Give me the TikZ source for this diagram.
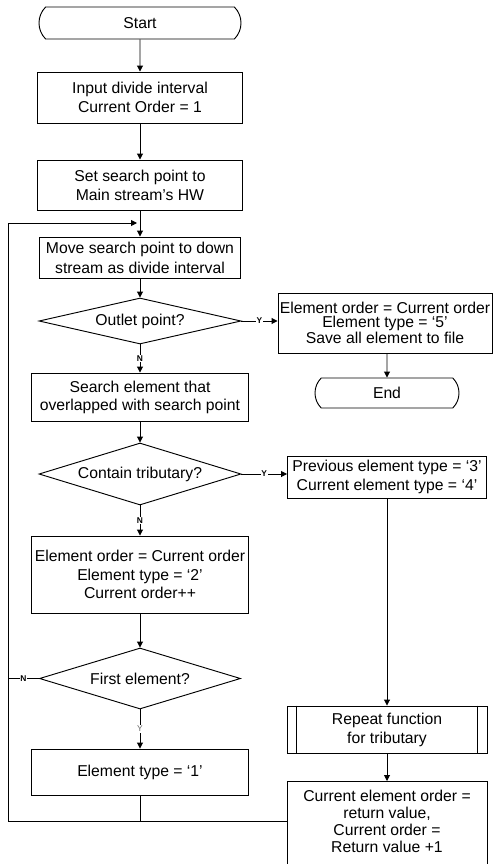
\documentclass[tikz,border=0pt]{standalone}
\usepackage{fontspec}
\setmainfont{Liberation Sans}
\usetikzlibrary{shapes.geometric,shapes.misc,arrows.meta}
\begin{document}
\begin{tikzpicture}[x=0.75pt,y=-0.75pt,
  every node/.style={font=\fontsize{11.8pt}{14.25pt}\selectfont, align=center, inner sep=0pt},
  proc/.style={draw, rectangle, line width=0.7pt},
  term/.style={draw, rounded rectangle, rounded rectangle arc length=90, line width=0.7pt},
  dec/.style={draw, diamond, line width=0.7pt},
  arr/.style={-{Triangle[length=4.5pt,width=4.5pt]}, line width=0.7pt},
  ln/.style={line width=0.7pt},
  yn/.style={font=\fontsize{6.3pt}{6.3pt}\selectfont\bfseries, fill=white, inner sep=0.6pt},
  ynl/.style={font=\fontsize{6.3pt}{6.3pt}\selectfont\color{black!60}, fill=white, inner sep=0.6pt}]
\useasboundingbox (0,0) rectangle (493,864);
\clip (0,0) rectangle (493,864);
\fill[white] (0,0) rectangle (493,864);

% left column
\node[term, minimum width=151.5pt, minimum height=24pt] (start) at (140,23) {Start};
\node[proc, minimum width=153.75pt, minimum height=38.25pt] (box1) at (140,97.5) {Input divide interval\\Current Order = 1};
\node[proc, minimum width=153.75pt, minimum height=37.5pt] (box2) at (140,185) {Set search point to\\Main stream’s HW};
\node[proc, minimum width=150.75pt, minimum height=30.75pt, font=\fontsize{11.8pt}{15pt}\selectfont] (box3) at (140,257.5) {Move search point to down\\stream as divide interval};
\node[dec, minimum width=151.5pt, minimum height=34.5pt, shape aspect=4.4] (d1) at (140,321) {Outlet point?};
\node[proc, minimum width=162.75pt, minimum height=36pt, font=\fontsize{11.8pt}{13.5pt}\selectfont] (box4) at (140,397) {Search element that\\overlapped with search point};
\node[dec, minimum width=151.5pt, minimum height=46.5pt, shape aspect=3.26] (d2) at (140,474) {Contain tributary?};
\node[proc, minimum width=162.75pt, minimum height=57.75pt, font=\fontsize{11.8pt}{13.9pt}\selectfont] (box5) at (140,574.5) {Element order = Current order\\Element type = ‘2’\\Current order++};
\node[dec, minimum width=150.75pt, minimum height=45.75pt, shape aspect=3.3] (d3) at (140,678.5) {First element?};
\node[proc, minimum width=162.75pt, minimum height=34.5pt] (box6) at (140,772) {Element type = ‘1’};

% right column
\node[proc, minimum width=160.5pt, minimum height=45pt, font=\fontsize{11.8pt}{10.8pt}\selectfont] (boxE) at (385,323) {Element order = Current order\\Element type = ‘5’\\Save all element to file};
\node[term, minimum width=108pt, minimum height=22.5pt] (end) at (387,393) {End};
\node[proc, minimum width=149.25pt, minimum height=31.5pt] (prev) at (387,477) {Previous element type = ‘3’\\Current element type = ‘4’};
\node[proc, minimum width=150pt, minimum height=35.25pt] (rep) at (387,729.5) {Repeat function\\for tributary};
\draw[ln] ([xshift=7.5pt]rep.north west) -- ([xshift=7.5pt]rep.south west);
\draw[ln] ([xshift=-7.5pt]rep.north east) -- ([xshift=-7.5pt]rep.south east);
\node[proc, minimum width=150pt, minimum height=75pt, anchor=north] (last) at (387,781) {};
\node[font=\fontsize{11.8pt}{12.75pt}\selectfont] (lastT) at (387,821) {Current element order =\\return value,\\Current order =\\Return value +1};

% coordinates for the loop
\coordinate (J) at (137,223);
\coordinate (LT) at (8,223);
\coordinate (LB) at (8,821);
\coordinate (B6) at (140,821);

% connectors
\draw[arr] (start) -- (box1);
\draw[arr] (box1) -- (box2);
\draw[arr] (box2) -- (box3);
\draw[arr] (box3) -- (d1);
\draw[arr] (d1.south) -- node[yn]{N} (box4.north);
\draw[arr] (d1.east) -- node[yn]{Y} (boxE.west |- d1.east);
\draw[arr] (boxE.south -| end) -- (end);
\draw[arr] (box4) -- (d2);
\draw[arr] (d2.south) -- node[yn]{N} (box5.north);
\draw[arr] (d2.east) -- node[yn]{Y} (prev.west |- d2.east);
\draw[arr] (box5) -- (d3);
\draw[arr] (d3.south) -- node[ynl]{Y} (box6.north);
\draw[ln] (d3.west) -- node[yn]{N} (d3.west -| LB);
\draw[arr] (prev) -- (rep);
\draw[arr] (rep) -- (last);
\draw[ln] (box6) -- (B6);
\draw[arr] (last.west |- LB) -- (LB) -- (LT) -- (J);
\end{tikzpicture}
\end{document}
